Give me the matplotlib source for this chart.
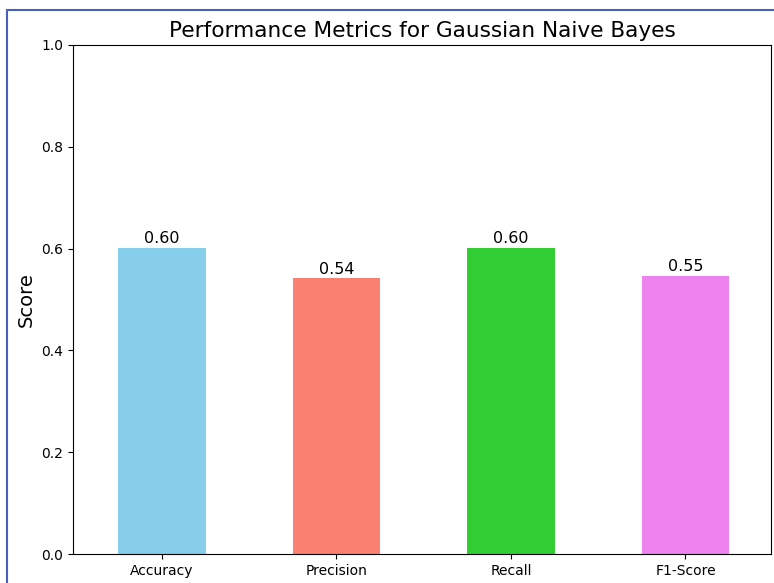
import matplotlib.pyplot as plt
from matplotlib.patches import Rectangle

metrics = ['Accuracy', 'Precision', 'Recall', 'F1-Score']
scores = [0.6015, 0.5417, 0.6015, 0.5463]
colors = ['skyblue', 'salmon', 'limegreen', 'violet']

fig = plt.figure(figsize=(7.74, 5.83), dpi=100)
ax = fig.add_axes([73 / 774, 29 / 583, 698 / 774, 509 / 583])

bars = ax.bar(metrics, scores, color=colors, width=0.5)
for b, s in zip(bars, scores):
    ax.text(b.get_x() + b.get_width() / 2, s + 0.003, f'{s:.2f}',
            ha='center', va='bottom', fontsize=11.5)

ax.set_ylim(0, 1.0)
ax.set_xlim(-0.51, 3.49)
ax.set_ylabel('Score', fontsize=14)
ax.set_title('Performance Metrics for Gaussian Naive Bayes', fontsize=15.6)
ax.tick_params(labelsize=10)

# blue screenshot frame
fig.patches.append(Rectangle((7 / 774, -0.1), 1.2, 1 - 10 / 583 + 0.1,
                             transform=fig.transFigure, fill=False,
                             edgecolor='#4b5fbf', linewidth=1.5))

fig.savefig('out.png', dpi=100)
